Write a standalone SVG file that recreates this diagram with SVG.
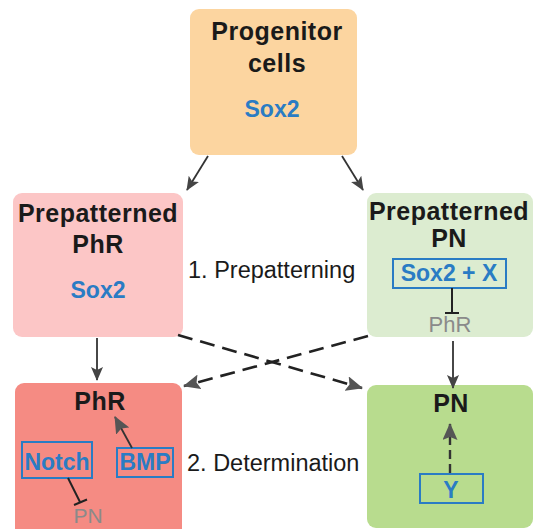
<svg xmlns="http://www.w3.org/2000/svg" width="533" height="529" viewBox="0 0 533 529">
<style>
.h{font-family:"Liberation Sans",Arial,sans-serif;font-weight:bold;font-size:25px;letter-spacing:0.5px;fill:#1a1a1a;text-anchor:middle}
.b{font-family:"Liberation Sans",Arial,sans-serif;font-weight:bold;font-size:23px;fill:#2a7cc4;text-anchor:middle}
.g{font-family:"Liberation Sans",Arial,sans-serif;font-size:22px;fill:#8a8a8a;text-anchor:middle}
.t{font-family:"Liberation Sans",Arial,sans-serif;font-size:23.5px;fill:#1a1a1a}
.bx{fill:none;stroke:#2a7cc4;stroke-width:2}
.c{stroke:#333;stroke-width:1.8;fill:none}
.d{stroke:#222;stroke-width:2.6;fill:none;stroke-dasharray:15 8}
.inh{stroke:#222;stroke-width:2;fill:none}
</style>
<defs>
<marker id="ah" markerUnits="userSpaceOnUse" markerWidth="14" markerHeight="12" refX="13" refY="6" orient="auto">
<path d="M0,0 L14,6 L0,12 L3,6 Z" fill="#444"/>
</marker>
<marker id="ah2" markerUnits="userSpaceOnUse" markerWidth="17" markerHeight="15" refX="16" refY="7.5" orient="auto">
<path d="M0,0 L17,7.5 L0,15 L3,7.5 Z" fill="#555"/>
</marker>
</defs>
<rect width="533" height="529" fill="#fff"/>
<g id="progenitor">
<rect x="190" y="9" width="167" height="146" rx="9" fill="#fcd5a0"/>
<text class="h" x="277" y="40">Progenitor</text>
<text class="h" x="277" y="72">cells</text>
<text class="b" x="272" y="117">Sox2</text>
</g>
<g id="prepatterned-phr">
<rect x="13" y="193" width="170" height="144" rx="9" fill="#fcc6c6"/>
<text class="h" x="98" y="222">Prepatterned</text>
<text class="h" x="98" y="253">PhR</text>
<text class="b" x="98" y="298">Sox2</text>
</g>
<g id="prepatterned-pn">
<rect x="367" y="193" width="166" height="144" rx="9" fill="#dcecd0"/>
<text class="h" x="449" y="220">Prepatterned</text>
<text class="h" x="449" y="247">PN</text>
<rect class="bx" x="393" y="259" width="113" height="29"/>
<text class="b" x="449" y="281">Sox2 + X</text>
<line class="inh" x1="452" y1="288" x2="452" y2="313"/>
<line class="inh" x1="445" y1="313" x2="459" y2="313"/>
<text class="g" x="450" y="332">PhR</text>
</g>
<g id="phr">
<rect x="15" y="383" width="167" height="160" rx="9" fill="#f58b83"/>
<text class="h" x="100" y="410">PhR</text>
<rect class="bx" x="22" y="442" width="70" height="36"/>
<text class="b" x="57" y="470">Notch</text>
<rect class="bx" x="117" y="448" width="56" height="29"/>
<text class="b" x="145" y="470">BMP</text>
<line class="inh" x1="68" y1="478" x2="80" y2="502"/>
<line class="inh" x1="74" y1="505" x2="87" y2="499.5"/>
<line class="c" x1="132" y1="448" x2="115" y2="417" stroke-width="2.2" marker-end="url(#ah2)"/>
<text class="g" x="88" y="523" style="font-size:21px">PN</text>
</g>
<g id="pn">
<rect x="367" y="385" width="166" height="143" rx="9" fill="#b8dc8e"/>
<text class="h" x="451" y="412">PN</text>
<rect class="bx" x="420" y="474" width="63" height="29"/>
<text class="b" x="451" y="498">Y</text>
<line x1="450" y1="473" x2="450" y2="424" stroke="#333" stroke-width="2.4" stroke-dasharray="9 5" marker-end="url(#ah2)"/>
</g>
<g id="labels">
<text class="t" x="188" y="278">1. Prepatterning</text>
<text class="t" x="187" y="471">2. Determination</text>
</g>
<g id="connectors">
<line class="c" x1="208" y1="156" x2="187" y2="190" marker-end="url(#ah)"/>
<line class="c" x1="342" y1="156" x2="363" y2="190" marker-end="url(#ah)"/>
<line class="c" x1="97" y1="338" x2="97" y2="380" marker-end="url(#ah)"/>
<line class="c" x1="453" y1="341" x2="453" y2="388" marker-end="url(#ah)"/>
<line class="d" x1="178" y1="335" x2="362" y2="388" marker-end="url(#ah2)"/>
<line class="d" x1="368" y1="336" x2="184" y2="386" marker-end="url(#ah2)"/>
</g>
</svg>
